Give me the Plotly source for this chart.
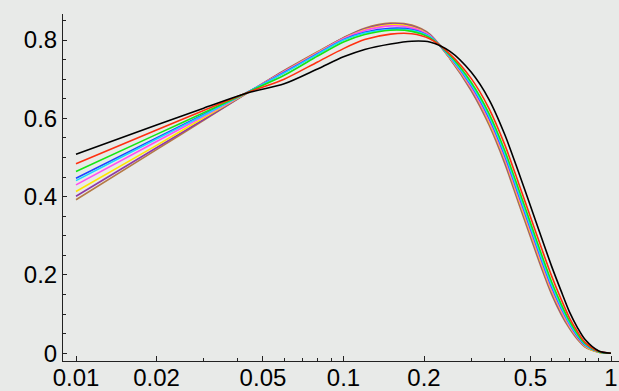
import plotly.graph_objects as go

x_vals = [0.01, 0.02, 0.03, 0.045, 0.06, 0.08, 0.1, 0.12, 0.15, 0.18, 0.21, 0.25,
          0.3, 0.35, 0.4, 0.45, 0.5, 0.55, 0.6, 0.65, 0.7, 0.75, 0.8, 0.9, 1.0]

black = [0.508, 0.583, 0.626, 0.667, 0.688, 0.726, 0.757, 0.776, 0.790, 0.797, 0.795, 0.771,
         0.718, 0.648, 0.560, 0.465, 0.376, 0.295, 0.222, 0.160, 0.105, 0.065, 0.035, 0.006, 0.0]
red = [0.484, 0.570, 0.620, 0.669, 0.700, 0.744, 0.778, 0.801, 0.815, 0.816, 0.803, 0.764,
       0.702, 0.625, 0.534, 0.437, 0.348, 0.268, 0.197, 0.139, 0.090, 0.055, 0.028, 0.005, 0.0]
green = [0.464, 0.559, 0.614, 0.670, 0.710, 0.759, 0.795, 0.814, 0.825, 0.822, 0.806, 0.761,
         0.692, 0.612, 0.519, 0.422, 0.333, 0.252, 0.182, 0.127, 0.082, 0.049, 0.025, 0.004, 0.0]
blue = [0.447, 0.550, 0.610, 0.671, 0.717, 0.765, 0.801, 0.820, 0.830, 0.827, 0.809, 0.757,
        0.684, 0.601, 0.507, 0.408, 0.319, 0.239, 0.170, 0.117, 0.075, 0.043, 0.021, 0.004, 0.0]
cyan = [0.441, 0.547, 0.608, 0.671, 0.716, 0.764, 0.800, 0.818, 0.827, 0.825, 0.809, 0.758,
        0.686, 0.604, 0.510, 0.411, 0.322, 0.242, 0.173, 0.119, 0.076, 0.045, 0.022, 0.004, 0.0]
magenta = [0.430, 0.541, 0.605, 0.671, 0.719, 0.767, 0.803, 0.824, 0.836, 0.831, 0.811, 0.756,
           0.680, 0.596, 0.501, 0.402, 0.313, 0.233, 0.164, 0.112, 0.071, 0.041, 0.020, 0.004, 0.0]
yellow = [0.413, 0.531, 0.601, 0.670, 0.720, 0.768, 0.804, 0.826, 0.839, 0.833, 0.812, 0.754,
          0.677, 0.591, 0.496, 0.396, 0.307, 0.227, 0.159, 0.108, 0.068, 0.039, 0.018, 0.003, 0.0]
purple = [0.401, 0.525, 0.597, 0.670, 0.721, 0.769, 0.805, 0.828, 0.841, 0.835, 0.814, 0.753,
          0.674, 0.588, 0.491, 0.392, 0.303, 0.222, 0.155, 0.104, 0.066, 0.037, 0.017, 0.003, 0.0]
brown = [0.392, 0.520, 0.595, 0.670, 0.722, 0.770, 0.806, 0.830, 0.843, 0.838, 0.815, 0.752,
         0.671, 0.583, 0.486, 0.386, 0.297, 0.217, 0.150, 0.100, 0.063, 0.035, 0.016, 0.003, 0.0]

series = [
    ("black", black, "#000000"),
    ("red", red, "#ff3010"),
    ("green", green, "#14e614"),
    ("cyan", cyan, "#18d8ff"),
    ("blue", blue, "#2040ff"),
    ("magenta", magenta, "#ff4cf0"),
    ("yellow", yellow, "#ffe600"),
    ("purple", purple, "#8c3aa8"),
    ("brown", brown, "#b57a45"),
]

x_tickvals = [0.01, 0.02, 0.05, 0.1, 0.2, 0.5, 1]
x_ticktext = ["0.01", "0.02", "0.05", "0.1", "0.2", "0.5", "1"]
x_minor = [0.03, 0.04, 0.06, 0.07, 0.08, 0.09, 0.3, 0.4, 0.6, 0.7, 0.8, 0.9]
y_tickvals = [0, 0.2, 0.4, 0.6, 0.8]
y_ticktext = ["0", "0.2", "0.4", "0.6", "0.8"]
y_minor = [0.05, 0.1, 0.15, 0.25, 0.3, 0.35, 0.45, 0.5, 0.55, 0.65, 0.7, 0.75, 0.85]

fig = go.Figure()
for name, ys, col in reversed(series):
    fig.add_trace(go.Scatter(x=x_vals, y=ys, mode="lines", name=name,
                             line=dict(color=col, width=1.6, shape="spline", smoothing=0.8)))

bg = "#e8eae8"
fig.update_layout(
    width=619, height=391,
    margin=dict(l=63, r=0, t=14, b=30, autoexpand=False),
    paper_bgcolor=bg, plot_bgcolor=bg,
    showlegend=False,
    font=dict(family="Liberation Sans, Arial, Helvetica, sans-serif", size=24, color="#000"),
)
fig.update_xaxes(
    type="log", range=[-2.0486, 0.0299],
    showgrid=False, zeroline=False,
    showline=True, linecolor="#222", linewidth=1,
    tickmode="array", tickvals=x_tickvals, ticktext=x_ticktext,
    ticks="inside", ticklen=5, tickcolor="#222", tickwidth=1,
    ticklabelstandoff=-5,
    minor=dict(tickmode="array", tickvals=x_minor, ticks="inside", ticklen=3,
               tickcolor="#222", showgrid=False),
    automargin=False,
)
fig.update_yaxes(
    range=[-0.0197, 0.8664],
    showgrid=False, zeroline=False,
    showline=True, linecolor="#222", linewidth=1,
    tickmode="array", tickvals=y_tickvals, ticktext=y_ticktext,
    ticks="inside", ticklen=4, tickcolor="#222", tickwidth=1,
    minor=dict(tickmode="array", tickvals=y_minor, ticks="inside", ticklen=2.5,
               tickcolor="#222", showgrid=False),
    automargin=False,
)

fig.write_html("out.html")
